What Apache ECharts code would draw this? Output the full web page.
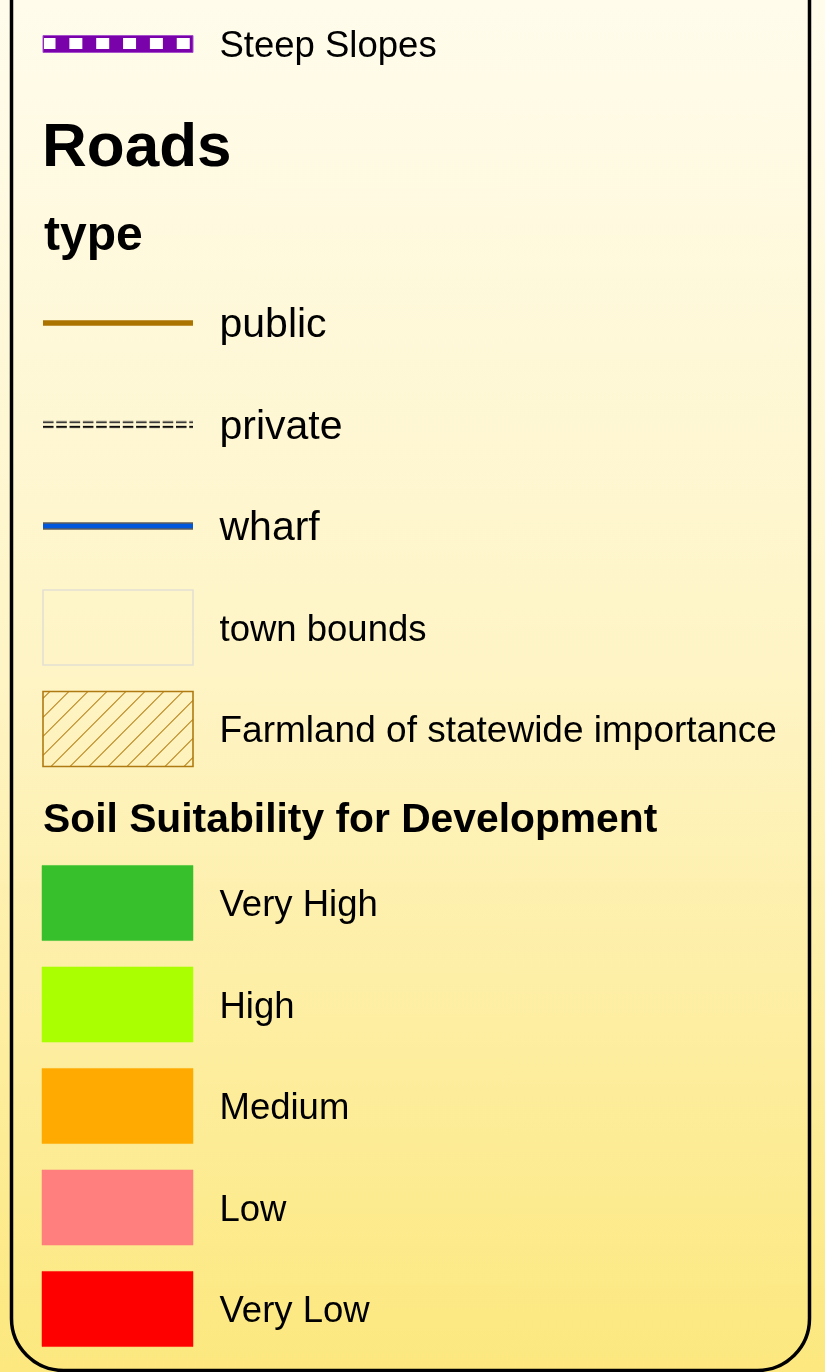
<!DOCTYPE html>
<html><head><meta charset="utf-8">
<script src="https://cdn.jsdelivr.net/npm/echarts@6/dist/echarts.min.js"></script>
<style>
html,body{margin:0;padding:0;width:825px;height:1372px;overflow:hidden;background:linear-gradient(180deg,#fffcec 0%,#fef4c4 50%,#fce87e 100%);}
#c{width:825px;height:1372px;}
</style>
</head><body><div id="c"></div>
<script>
// ---- legend content ----
const steepLabels = ['Steep Slopes'];
const steepKinds = ['steep'];
const roadTitle = 'Roads';
const roadSubtitle = 'type';
const roadLabels = ['public', 'private', 'wharf', 'town bounds', 'Farmland of statewide importance'];
const roadKinds = ['solid', 'double-dash', 'cased', 'outline', 'hatch'];
const soilTitle = 'Soil Suitability for Development';
const soilLabels = ['Very High', 'High', 'Medium', 'Low', 'Very Low'];
const soilColors = ['#37c02b', '#aaff00', '#ffaa00', '#ff7f7f', '#ff0000'];

const FONT = '"Liberation Sans", Arial, Helvetica, sans-serif';

function symbolFor(kind, x0, x1, cy, band, color) {
  const h = band * 0.74;
  const w = x1 - x0;
  switch (kind) {
    case 'steep':
      return [
        {type: 'rect', shape: {x: x0 + 1, y: cy - 8.5, width: w - 1, height: 17},
          style: {fill: '#7a02aa', stroke: '#a650cc', lineWidth: 1}},
        {type: 'line', shape: {x1: x0 + 2, y1: cy - 0.5, x2: x1 - 2, y2: cy - 0.5},
          style: {stroke: '#ffffff', lineWidth: 11, lineDash: [13, 13.85], lineDashOffset: 1.5}}
      ];
    case 'solid':
      return [{type: 'line', shape: {x1: x0 + 1, y1: cy, x2: x1, y2: cy},
        style: {stroke: '#ab7300', lineWidth: 5.5}}];
    case 'double-dash':
      return [
        {type: 'line', shape: {x1: x0 + 1, y1: cy - 2.3, x2: x1, y2: cy - 2.3},
          style: {stroke: 'rgba(0,0,0,0.18)', lineWidth: 3.2, lineDash: [10.5, 2.8]}},
        {type: 'line', shape: {x1: x0 + 1, y1: cy + 2.3, x2: x1, y2: cy + 2.3},
          style: {stroke: 'rgba(0,0,0,0.18)', lineWidth: 3.2, lineDash: [10.5, 2.8]}},
        {type: 'line', shape: {x1: x0 + 1, y1: cy - 2.3, x2: x1, y2: cy - 2.3},
          style: {stroke: '#3a3a3a', lineWidth: 1.5, lineDash: [10.5, 2.8]}},
        {type: 'line', shape: {x1: x0 + 1, y1: cy + 2.3, x2: x1, y2: cy + 2.3},
          style: {stroke: '#0d0d0d', lineWidth: 1.7, lineDash: [10.5, 2.8]}}
      ];
    case 'cased':
      return [
        {type: 'line', shape: {x1: x0 + 1, y1: cy, x2: x1, y2: cy}, style: {stroke: '#5c5c5c', lineWidth: 7.5}},
        {type: 'line', shape: {x1: x0 + 1, y1: cy, x2: x1, y2: cy}, style: {stroke: '#0057dc', lineWidth: 4.3}}
      ];
    case 'outline':
      return [{type: 'rect', shape: {x: x0 + 1, y: cy - h / 2, width: w - 1, height: h},
        style: {fill: null, stroke: '#e4e0d2', lineWidth: 1.6}}];
    case 'hatch': {
      const rx0 = x0 + 1, rx1 = x1, ry0 = cy - h / 2, ry1 = cy + h / 2;
      const els = [];
      const step = 19;
      for (let c = rx0 + ry0 + 7 - step * 10; c < rx1 + ry1; c += step) {
        if (c <= rx0 + ry0) continue;
        let ax, ay, bx, by;
        if (c - rx0 <= ry1) { ax = rx0; ay = c - rx0; } else { ay = ry1; ax = c - ry1; }
        if (c - ry0 <= rx1) { by = ry0; bx = c - ry0; } else { bx = rx1; by = c - rx1; }
        if (ax >= rx1 || by >= ry1) continue;
        els.push({type: 'line', shape: {x1: ax, y1: ay, x2: bx, y2: by},
          style: {stroke: '#b9861e', lineWidth: 1.1}});
      }
      els.push({type: 'rect', shape: {x: rx0, y: ry0, width: rx1 - rx0, height: ry1 - ry0},
        style: {fill: null, stroke: '#b07a12', lineWidth: 1.6}});
      return els;
    }
    default:
      return [{type: 'rect', shape: {x: x0, y: cy - h / 2, width: w, height: h},
        style: {fill: color, stroke: color, lineWidth: 0.5}}];
  }
}

function makeRender(labels, kinds, colors, fontSizes) {
  return function (params, api) {
    const idx = api.value(1);
    const p0 = api.coord([0, idx]);
    const p1 = api.coord([1, idx]);
    const band = api.size([0, 1])[1];
    const cy = p0[1];
    const kind = kinds ? kinds[idx] : 'fill';
    const color = colors ? colors[idx] : null;
    const children = symbolFor(kind, p0[0], p1[0], cy, band, color);
    children.push({
      type: 'text', x: p1[0] + 26.5, y: cy + 3,
      style: {text: labels[idx], fill: '#000', fontSize: fontSizes[idx], fontFamily: FONT,
        align: 'left', verticalAlign: 'middle'}
    });
    return {type: 'group', children};
  };
}

const grids = [
  {left: 42, width: 151, top: 0, height: 88},
  {left: 42, width: 151, top: 272.25, height: 507.5},
  {left: 42, width: 151, top: 852.25, height: 507.5}
];
const cats = [steepLabels, roadLabels, soilLabels];

const option = {
  animation: false,
  backgroundColor: 'transparent',
  title: [
    {text: roadTitle, left: 42, top: 118, padding: 0,
      textStyle: {fontSize: 62, fontWeight: 'bold', fontFamily: FONT, color: '#000'}},
    {text: roadSubtitle, left: 44, top: 213, padding: 0,
      textStyle: {fontSize: 48, fontWeight: 'bold', fontFamily: FONT, color: '#000'}},
    {text: soilTitle, left: 43, top: 800, padding: 0,
      textStyle: {fontSize: 40.8, fontWeight: 'bold', fontFamily: FONT, color: '#000'}}
  ],
  grid: grids,
  xAxis: grids.map((g, i) => ({type: 'value', gridIndex: i, min: 0, max: 1, show: false})),
  yAxis: grids.map((g, i) => ({type: 'category', gridIndex: i, data: cats[i], inverse: true, show: false})),
  graphic: [{
    type: 'rect', z: 100, silent: true,
    shape: {x: 11.5, y: -60, width: 798, height: 1430.5, r: 52},
    style: {fill: null, stroke: '#000', lineWidth: 3.5}
  }],
  series: [
    {type: 'custom', xAxisIndex: 0, yAxisIndex: 0, clip: false,
      data: steepLabels.map((l, i) => [0, i]),
      renderItem: makeRender(steepLabels, steepKinds, null, [36.5])},
    {type: 'custom', xAxisIndex: 1, yAxisIndex: 1, clip: false,
      data: roadLabels.map((l, i) => [0, i]),
      renderItem: makeRender(roadLabels, roadKinds, null, [41, 41, 41, 36.5, 37])},
    {type: 'custom', xAxisIndex: 2, yAxisIndex: 2, clip: false,
      data: soilLabels.map((l, i) => [0, i]),
      renderItem: makeRender(soilLabels, null, soilColors, soilLabels.map(() => 36.5))}
  ]
};

const chart = echarts.init(document.getElementById('c'), null, {renderer: 'canvas'});
chart.setOption(option);
</script>
</body></html>
